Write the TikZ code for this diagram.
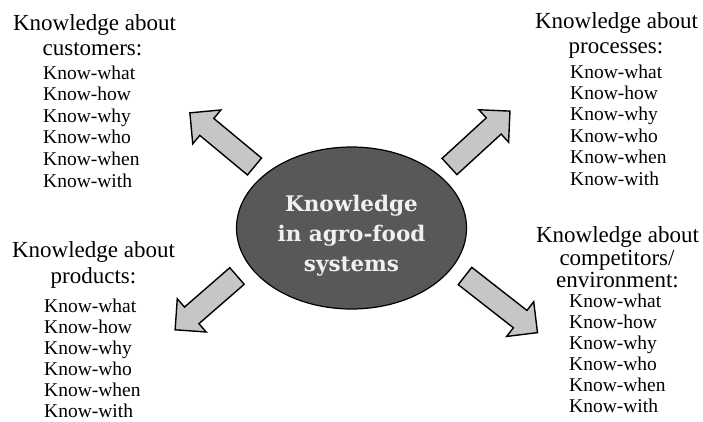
\documentclass[tikz,border=0pt]{standalone}
\usepackage{fontspec}
\setmainfont{Liberation Serif}
\newfontfamily\corefont{DejaVu Serif}
\usetikzlibrary{shapes.geometric}
\definecolor{arrowgray}{HTML}{C6C6C6}
\definecolor{coregray}{HTML}{585858}
\definecolor{coretxtcol}{HTML}{F0F0F0}
\tikzset{
  hd/.style={anchor=base, inner sep=0pt, font=\fontsize{23}{25}\selectfont},
  itm/.style={anchor=base west, inner sep=0pt, font=\fontsize{19.5}{21}\selectfont},
  fatstyle/.style={draw=black, line width=1.4pt, fill=arrowgray, line join=miter},
  fatarrow/.pic={
    \draw[fatstyle] (0,-11) -- ({#1-22},-11) -- ({#1-22},-22) -- (#1,0)
      -- ({#1-22},22) -- ({#1-22},11) -- (0,11) -- cycle;
  },
  core/.style={ellipse, draw=black, line width=1.2pt, fill=coregray,
    minimum width=230pt, minimum height=162pt, inner sep=0pt},
  coretext/.style={align=center, text=coretxtcol, inner sep=0pt,
    font=\corefont\bfseries\fontsize{21.5}{30}\selectfont}
}
\begin{document}
\begin{tikzpicture}[x=1pt,y=-1pt]
\useasboundingbox (0,0) rectangle (703,421);
% centre
\node[core] (core) at (351.5,228) {};
\node[coretext] (coretxt) at (351.5,236) {Knowledge\\in agro-food\\systems};
% arrows
\pic[rotate=140.3] (a1) at (254.5,166.5) {fatarrow=84};
\pic[rotate=42.5] (a2) at (449.5,166.5) {fatarrow=82};
\pic[rotate=221] (a3) at (237,276) {fatarrow=82};
\pic[rotate=-38] (a4) at (465,276) {fatarrow=92};
% block 1
\node[hd] (c1h1) at (94.5,30) {Knowledge about};
\node[hd] (c1h2) at (92.5,55) {customers:};
\foreach \t [count=\i] in {Know-what,Know-how,Know-why,Know-who,Know-when,Know-with}
  \node[itm] (c1i\i) at (43,{79+21.6*(\i-1)}) {\t};
% block 2
\node[hd] (c2h1) at (616.5,28) {Knowledge about};
\node[hd] (c2h2) at (616,53) {processes:};
\foreach \t [count=\i] in {Know-what,Know-how,Know-why,Know-who,Know-when,Know-with}
  \node[itm] (c2i\i) at (570,{78+21.4*(\i-1)}) {\t};
% block 3
\node[hd] (c3h1) at (93.5,257) {Knowledge about};
\node[hd] (c3h2) at (93.5,283) {products:};
\foreach \t [count=\i] in {Know-what,Know-how,Know-why,Know-who,Know-when,Know-with}
  \node[itm] (c3i\i) at (44,{312+21*(\i-1)}) {\t};
% block 4
\node[hd] (c4h1) at (617.5,242) {Knowledge about};
\node[hd] (c4h2) at (617,265) {competitors/};
\node[hd] (c4h3) at (617.5,287) {environment:};
\foreach \t [count=\i] in {Know-what,Know-how,Know-why,Know-who,Know-when,Know-with}
  \node[itm] (c4i\i) at (569,{307+21*(\i-1)}) {\t};
\end{tikzpicture}
\end{document}
